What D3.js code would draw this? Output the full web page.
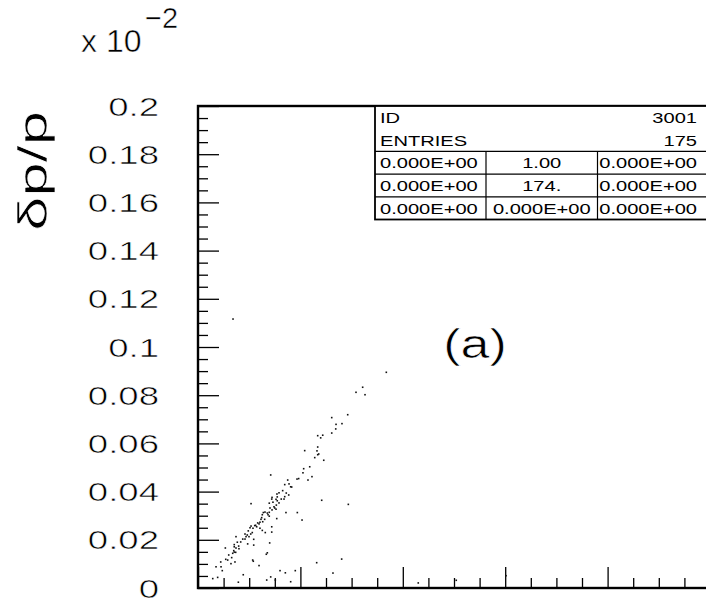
<!DOCTYPE html>
<html><head><meta charset="utf-8">
<script src="https://cdn.jsdelivr.net/npm/d3@7"></script>
<style>html,body{margin:0;padding:0;background:#fff;overflow:hidden}</style>
</head><body>
<script>
// ---------- data ----------
const xValues = [1.608,1.543,1.631,1.306,1.462,1.348,1.406,1.345,1.306,1.169,1.218,1.198,1.169,1.162,1.042,1.179,1.169,1.140,1.228,1.091,
1.032,1.025,0.710,1.113,0.983,0.967,1.074,0.876,0.889,0.847,0.905,0.915,0.827,0.791,0.862,0.886,0.771,0.847,0.723,0.840,
0.774,0.720,0.813,0.762,0.774,1.208,0.732,0.791,0.765,0.696,0.518,1.468,0.742,0.703,0.762,0.749,0.723,0.696,0.638,0.654,
0.677,0.859,0.970,0.684,0.628,0.696,0.769,0.622,0.651,0.615,1.016,0.605,0.632,0.583,0.563,0.596,0.573,0.554,0.518,0.720,
0.605,0.508,0.537,0.628,0.491,0.720,0.657,0.530,0.459,0.481,0.515,0.469,0.498,0.459,0.544,0.371,0.437,0.417,0.384,0.700,
0.485,0.544,0.354,0.397,0.354,0.371,0.267,0.400,0.349,0.354,0.368,0.339,0.677,0.667,0.300,0.329,0.271,0.534,0.540,0.222,
0.290,0.361,0.322,1.403,1.159,0.596,0.176,0.225,0.237,0.801,0.853,0.950,1.318,0.442,0.192,0.144,0.710,0.671,0.755,0.394,
0.905,0.342,1.839,2.151,2.522,3.008];
const yValues = [0.0833,0.0812,0.0802,0.0707,0.0719,0.0679,0.0682,0.0660,0.0643,0.0632,0.0634,0.0623,0.0585,0.0569,0.0570,0.0556,0.0553,0.0541,0.0530,0.0503,
0.0495,0.0478,0.0469,0.0462,0.0454,0.0452,0.0448,0.0448,0.0432,0.0429,0.0420,0.0419,0.0404,0.0395,0.0394,0.0386,0.0390,0.0379,0.0376,0.0369,
0.0378,0.0369,0.0369,0.0368,0.0362,0.0364,0.0356,0.0353,0.0344,0.0352,0.0350,0.0347,0.0337,0.0332,0.0327,0.0332,0.0324,0.0314,0.0313,0.0315,
0.0311,0.0313,0.0313,0.0304,0.0304,0.0298,0.0288,0.0292,0.0285,0.0285,0.0282,0.0273,0.0275,0.0270,0.0260,0.0266,0.0254,0.0259,0.0257,0.0254,
0.0248,0.0250,0.0248,0.0239,0.0237,0.0232,0.0230,0.0230,0.0224,0.0220,0.0224,0.0213,0.0213,0.0203,0.0202,0.0213,0.0203,0.0191,0.0190,0.0187,
0.0183,0.0178,0.0180,0.0174,0.0171,0.0166,0.0166,0.0163,0.0155,0.0149,0.0148,0.0144,0.0146,0.0140,0.0137,0.0126,0.0119,0.0116,0.0111,0.0108,
0.0116,0.0108,0.0101,0.0120,0.0105,0.0093,0.0088,0.0088,0.0072,0.0072,0.0063,0.0072,0.0062,0.0055,0.0044,0.0039,0.0046,0.0033,0.0033,0.0024,
0.0026,0.1116,0.0895,0.0021,0.0032,0.0051];
const yTickValues = [0,0.02,0.04,0.06,0.08,0.1,0.12,0.14,0.16,0.18,0.2];
const yTickLabels = ["0","0.02","0.04","0.06","0.08","0.1","0.12","0.14","0.16","0.18","0.2"];
const xMajorValues = [0,1,2,3,4,5];
const yAxisTitle = "δp/p";
const scaleNote = "x 10";
const scaleExp = "−2";
const panelLabel = "(a)";
const statsHeader = [["ID","3001"],["ENTRIES","175"]];
const statsGrid = [["0.000E+00","1.00","0.000E+00"],["0.000E+00","174.","0.000E+00"],["0.000E+00","0.000E+00","0.000E+00"]];

// ---------- chart ----------
const W = 706, H = 608;
const L = 198, R = 710, T = 106, B = 588;
const svg = d3.select("body").append("svg").attr("width", W).attr("height", H);
const x = d3.scaleLinear().domain([0,5]).range([L,R]);
const y = d3.scaleLinear().domain([0,0.2]).range([B,T]);
const FONT = "'Liberation Sans', Arial, sans-serif";

function txt(px, py, s, size, anchor, sx, rot, thin) {
  const t = svg.append("text")
    .attr("transform", `translate(${px},${py})` + (rot ? ` rotate(${rot})` : "") + ` scale(${sx},1)`)
    .attr("font-family", FONT).attr("font-size", size).attr("text-anchor", anchor)
    .attr("fill", "#000").text(s);
  if (thin) t.attr("stroke", "#fff").attr("stroke-width", thin).attr("paint-order", "normal");
  return t;
}

// ticks
const yMinor = d3.range(0, 41).map(i => i*0.005).filter(v => Math.round(v*1000) % 20 !== 0);
const xMinor = d3.range(0, 21).map(i => i*0.25).filter(v => v % 1 !== 0);

function styleAxis(g){ g.select(".domain").remove(); g.selectAll("line").attr("stroke","#000").attr("stroke-width",1.3); }

svg.append("g").attr("transform", `translate(${L},0)`)
  .call(d3.axisRight(y).tickValues(yMinor).tickSize(10).tickFormat("")).call(styleAxis);
svg.append("g").attr("transform", `translate(${L},0)`)
  .call(d3.axisRight(y).tickValues(yTickValues).tickSize(21).tickFormat("")).call(styleAxis);
svg.append("g").attr("transform", `translate(0,${B})`)
  .call(d3.axisTop(x).tickValues(xMinor).tickSize(10).tickFormat("")).call(styleAxis);
svg.append("g").attr("transform", `translate(0,${B})`)
  .call(d3.axisTop(x).tickValues(xMajorValues).tickSize(21).tickFormat("")).call(styleAxis);

// frame
svg.append("rect").attr("x", L).attr("y", T).attr("width", R-L).attr("height", B-T)
  .attr("fill","none").attr("stroke","#000").attr("stroke-width",2.4);

// y tick labels
yTickValues.forEach((v,i) => {
  txt(159, y(v) + 9.5, yTickLabels[i], 26.5, "end", 1.38, 0, 0.55);
});

// exponent note
txt(81, 52, scaleNote, 32, "start", 1.0, 0, 0.5);
txt(145, 28, scaleExp, 29, "start", 1.0, 0, 0.5);

// y axis title
txt(47, 171, yAxisTitle, 41, "middle", 1.5, -90, 0.6);

// panel label
txt(475, 358, panelLabel, 40, "middle", 1.3, 0, 0.6);

// points
svg.append("g").selectAll("rect").data(xValues.map((d,i)=>[d,yValues[i]])).join("rect")
  .attr("x", d => x(d[0]) - 0.8).attr("y", d => y(d[1]) - 0.8)
  .attr("width", 1.6).attr("height", 1.6).attr("fill", "#111");

// stats box
const bx0 = 375, bx1 = R, rowH = 22.7, c1 = 486, c2 = 597.5;
const box = svg.append("g");
box.append("rect").attr("x", bx0).attr("y", T).attr("width", bx1-bx0).attr("height", rowH*5)
  .attr("fill","#fff").attr("stroke","#000").attr("stroke-width",1.8);
[2,3,4].forEach(k => box.append("line").attr("x1",bx0).attr("x2",bx1)
  .attr("y1",T+rowH*k).attr("y2",T+rowH*k).attr("stroke","#000").attr("stroke-width",1.2));
[c1,c2].forEach(cx => box.append("line").attr("x1",cx).attr("x2",cx)
  .attr("y1",T+rowH*2).attr("y2",T+rowH*5).attr("stroke","#000").attr("stroke-width",1.2));
statsHeader.forEach((r,i) => {
  const by = T + rowH*i + rowH/2 + 5.5;
  txt(380, by, r[0], 15, "start", 1.34);
  txt(697, by, r[1], 15, "end", 1.34);
});
statsGrid.forEach((r,i) => {
  const by = T + rowH*(i+2) + rowH/2 + 5.5;
  txt(380, by, r[0], 15, "start", 1.34);
  txt((c1+c2)/2, by, r[1], 15, "middle", 1.34);
  txt(697, by, r[2], 15, "end", 1.34);
});
</script>
</body></html>
